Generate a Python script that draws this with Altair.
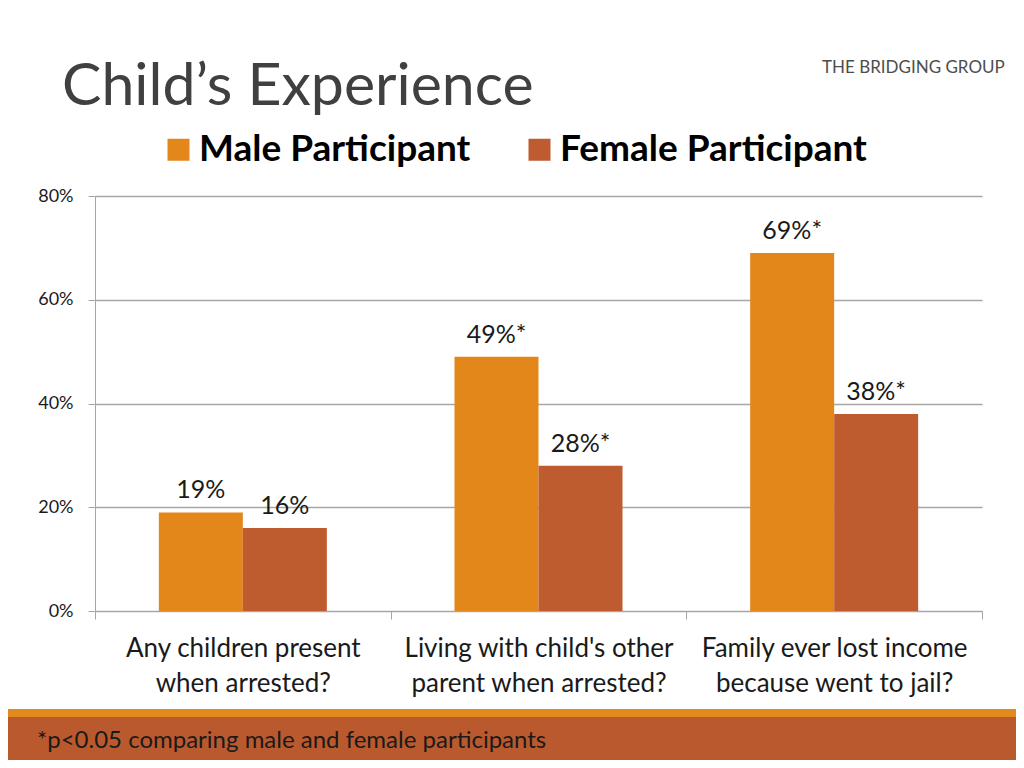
import altair as alt
import pandas as pd

# ---- data ----
categories = [
    "Any children present\nwhen arrested?",
    "Living with child's other\nparent when arrested?",
    "Family ever lost income\nbecause went to jail?",
]
series = ["Male Participant", "Female Participant"]
male_values = [0.19, 0.49, 0.69]
female_values = [0.16, 0.28, 0.38]
male_labels = ["19%", "49%*", "69%*"]
female_labels = ["16%", "28%*", "38%*"]
y_ticks = [0, 0.2, 0.4, 0.6, 0.8]

title_text = "Child\u2019s Experience"
footnote_text = "*p<0.05 comparing male and female participants"
logo_text = "THE BRIDGING GROUP"

colors = ["#E3871A", "#BE5B2F"]
FONT = "Lato"

rows = []
for i, c in enumerate(categories):
    rows.append({"category": c, "series": series[0], "value": male_values[i], "label": male_labels[i]})
    rows.append({"category": c, "series": series[1], "value": female_values[i], "label": female_labels[i]})
df = pd.DataFrame(rows)

x_enc = alt.X(
    "category:N",
    sort=categories,
    scale=alt.Scale(paddingInner=0, paddingOuter=0),
    axis=alt.Axis(
        title=None,
        labelAngle=0,
        labelExpr="split(datum.label, '\\n')",
        labelFont=FONT,
        labelFontSize=26,
        labelColor="#1a1a1a",
        labelLineHeight=35,
        labelBaseline="top",
        labelPadding=16,
        labelLimit=400,
        tickBand="extent",
        tickSize=8,
        tickColor="#a6a6a6",
        domainColor="#a6a6a6",
        grid=False,
    ),
)
xoff_enc = alt.XOffset(
    "series:N", sort=series, scale=alt.Scale(paddingOuter=0.76, paddingInner=0)
)
y_enc = alt.Y(
    "value:Q",
    scale=alt.Scale(domain=[0, 0.8], nice=False),
    axis=alt.Axis(
        title=None,
        values=y_ticks,
        format=".0%",
        labelFont=FONT,
        labelFontSize=18,
        labelColor="#1a1a1a",
        labelPadding=15,
        tickSize=7,
        tickColor="#a6a6a6",
        domainColor="#a6a6a6",
        gridColor="#a6a6a6",
        gridWidth=1.3,
    ),
)
color_enc = alt.Color(
    "series:N",
    sort=series,
    scale=alt.Scale(domain=series, range=colors),
    legend=alt.Legend(
        title=None,
        orient="none",
        legendX=65,
        legendY=-65,
        direction="horizontal",
        symbolType="square",
        symbolSize=484,
        symbolStrokeWidth=0,
        symbolOpacity=1,
        labelFont=FONT,
        labelFontSize=37,
        labelFontWeight="bold",
        labelColor="#000000",
        labelOffset=2,
        labelLimit=500,
        columnPadding=50,
        padding=0,
    ),
)

base = alt.Chart(df)
bars = base.mark_bar(opacity=1).encode(x=x_enc, xOffset=xoff_enc, y=y_enc, color=color_enc)
labels = base.mark_text(
    baseline="alphabetic", dy=-14, font=FONT, fontSize=25, color="#1a1a1a"
).encode(x=x_enc, xOffset=xoff_enc, y=y_enc, text="label:N")

one = pd.DataFrame({"k": [0]})
title = alt.Chart(one).mark_text(
    align="left", baseline="alphabetic", font=FONT, fontSize=59, color="#404040"
).encode(x=alt.value(-33), y=alt.value(-91), text=alt.value(title_text))

logo = alt.Chart(one).mark_text(
    align="left", baseline="alphabetic", font=FONT, fontSize=17, color="#4d4d4d"
).encode(x=alt.value(727), y=alt.value(-123), text=alt.value(logo_text))

band_top = alt.Chart(one).mark_rect(color="#E38A1E").encode(
    x=alt.value(-87), x2=alt.value(921), y=alt.value(513), y2=alt.value(521)
)
band = alt.Chart(one).mark_rect(color="#BB592E").encode(
    x=alt.value(-87), x2=alt.value(921), y=alt.value(521), y2=alt.value(564)
)
footnote = alt.Chart(one).mark_text(
    align="left", baseline="alphabetic", font=FONT, fontSize=24, color="#1a1a1a"
).encode(x=alt.value(-58), y=alt.value(552), text=alt.value(footnote_text))

chart = (
    alt.layer(band_top, band, bars, labels, title, logo, footnote)
    .properties(
        width=887,
        height=415,
        autosize=alt.AutoSizeParams(type="none"),
        padding={"left": 87, "top": 188, "right": 34, "bottom": 149},
    )
    .configure_view(stroke="transparent", strokeWidth=0)
)

chart.save("out.html", embed_options={"renderer": "svg", "actions": False})
